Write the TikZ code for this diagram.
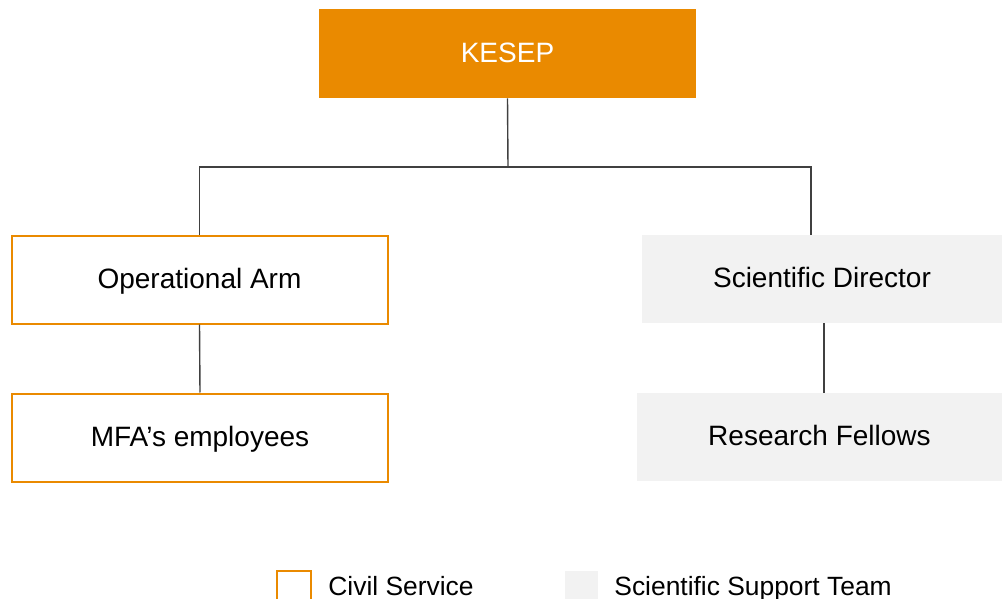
\documentclass[tikz,border=0pt]{standalone}
\usepackage{fontspec}
\setmainfont{Liberation Sans}
\usetikzlibrary{positioning}
\definecolor{kesepOrange}{HTML}{EA8A00}
\definecolor{supportGray}{HTML}{F2F2F2}
\definecolor{lineGray}{HTML}{404040}

\begin{document}
\begin{tikzpicture}[x=0.5pt,y=-0.5pt]
    \tikzstyle{box}=[rectangle,inner sep=0pt,text height=0.88em,text depth=0pt,font=\fontsize{14}{17}\selectfont]
    \tikzstyle{head}=[box,fill=kesepOrange,text=white,minimum width=188.5pt,minimum height=44.5pt]
    \tikzstyle{civil}=[box,draw=kesepOrange,line width=1pt,fill=white,minimum width=188pt,minimum height=44pt]
    \tikzstyle{support}=[box,fill=supportGray,minimum height=44pt]
    \tikzstyle{link}=[draw=lineGray,line width=0.7pt]
    \tikzstyle{legend}=[anchor=base west,inner sep=0pt,font=\fontsize{13.2}{16}\selectfont]
    \useasboundingbox[fill=white] (0,0) rectangle (1002,599);
    % chart
    \node[head] (kesep) at (507.5,53.5) {KESEP};
    \node[civil] (opArm) at (199.5,279.5) {Operational Arm};
    \node[civil] (mfa) at (200,437.5) {MFA's employees};
    \node[support,minimum width=180pt] (sciDir) at (822,279) {Scientific Director};
    \node[support,minimum width=182.5pt] (resFel) at (819.5,437) {Research Fellows};
    \coordinate (split) at (508,167);
    \draw[link] (kesep.south) -- (split);
    \draw[link] (opArm.north) |- (split) -| ([xshift=-5.5pt]sciDir.north);
    \draw[link] (opArm.south) -- (mfa.north);
    \draw[link] ([xshift=1pt]sciDir.south) -- ([xshift=1pt]sciDir.south |- resFel.north);
    % legend
    \node[civil,minimum width=17pt,minimum height=17pt] (civilKey) at (294,588) {};
    \node[legend] (civilText) at (328,595) {Civil Service};
    \node[support,minimum width=16.5pt,minimum height=17pt] (supportKey) at (581.5,588) {};
    \node[legend] (supportText) at (614,595) {Scientific Support Team};
\end{tikzpicture}
\end{document}
